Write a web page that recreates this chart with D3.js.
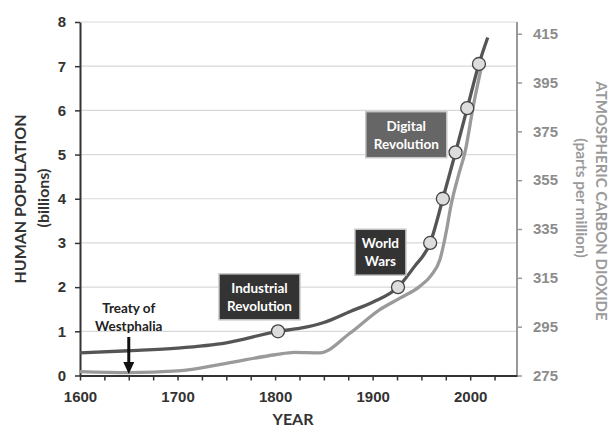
<!DOCTYPE html>
<html>
<head>
<meta charset="utf-8">
<script src="https://cdn.jsdelivr.net/npm/d3@7"></script>
<style>
  body { margin: 0; background: #fff; }
  svg { font-family: "Lato", "Open Sans", sans-serif; font-weight: bold; }
  .axis text { font-size: 15px; font-weight: bold; }
</style>
</head>
<body>
<div id="chart"></div>
<script>
// Human population (billions) by year
const popYears  = [1600, 1650, 1700, 1750, 1803, 1826, 1850, 1877, 1900, 1926, 1943, 1959, 1972, 1985, 1997, 2009, 2018];
const popValues = [0.51, 0.56, 0.62, 0.74, 1.0, 1.07, 1.2, 1.45, 1.66, 2.0, 2.47, 3.0, 4.0, 5.05, 6.05, 7.05, 7.65];

// Billion milestones (circles)
const milestoneYears  = [1803, 1926, 1959, 1972, 1985, 1997, 2009];
const milestoneValues = [1, 2, 3, 4, 5.05, 6.05, 7.05];

// Atmospheric CO2 (ppm) by year
const co2Years  = [1600, 1650, 1700, 1750, 1800, 1820, 1846, 1877, 1907, 1928, 1948, 1960, 1969, 1976, 1980, 1988, 1995, 2003, 2013];
const co2Values = [276.6, 276.2, 276.9, 280, 283.5, 284.5, 284.3, 292.4, 301.9, 306.7, 311.4, 316, 322.5, 335, 344, 357, 367, 385, 404];

// Tick labels
const popTicks  = [0, 1, 2, 3, 4, 5, 6, 7, 8];
const co2Ticks  = [275, 295, 315, 335, 355, 375, 395, 415];
const yearTicks = d3.range(1600, 2026, 25);

// Text annotations, anchored at a (year, population) box centre
const boxNotes = [
    { lines: ["Industrial", "Revolution"], year: 1784, pop: 1.78, w: 81, fill: "#333" },
    { lines: ["World", "Wars"],            year: 1908, pop: 2.79, w: 51, fill: "#333" },
    { lines: ["Digital", "Revolution"],    year: 1934.5, pop: 5.45, w: 81, fill: "#666" }
];

const width = 613;
const height = 428;

const svg = d3.select("#chart")
    .append("svg")
    .attr("width", width)
    .attr("height", height);

const x = d3.scaleLinear().domain([1600, 2048]).range([80, 517]);
const yPop = d3.scaleLinear().domain([0, 8]).range([375.5, 22]);
const yCo2 = d3.scaleLinear().domain([275, 415]).range([375.5, 33.7]);

// Gridlines
svg.append("g")
    .selectAll("line")
    .data(popTicks.filter(d => d > 0))
    .enter()
    .append("line")
    .attr("x1", x.range()[0])
    .attr("x2", x.range()[1])
    .attr("y1", d => yPop(d))
    .attr("y2", d => yPop(d))
    .attr("stroke", "#d9d9d9")
    .attr("stroke-width", 1.2);

// Right axis (CO2)
const rightAxis = svg.append("g")
    .attr("class", "axis")
    .attr("transform", `translate(${x.range()[1]},0)`)
    .call(d3.axisRight(yCo2).tickValues(co2Ticks).tickSize(5).tickPadding(11).tickSizeOuter(0));
rightAxis.select(".domain").remove();
rightAxis.append("line")
    .attr("y1", yPop(0))
    .attr("y2", yPop(8))
    .attr("stroke", "#999")
    .attr("stroke-width", 2);
rightAxis.selectAll(".tick line").attr("stroke", "#999").attr("stroke-width", 1.5);
rightAxis.selectAll(".tick text").attr("fill", "#8c8c8c");

// Left axis (population)
const leftAxis = svg.append("g")
    .attr("class", "axis")
    .attr("transform", `translate(${x.range()[0]},0)`)
    .call(d3.axisLeft(yPop).tickValues(popTicks).tickSize(5).tickPadding(9).tickSizeOuter(0));
leftAxis.select(".domain").attr("stroke", "#333").attr("stroke-width", 2);
leftAxis.selectAll(".tick line").attr("stroke", "#333").attr("stroke-width", 1.5);
leftAxis.selectAll(".tick text").attr("fill", "#333");

// Bottom axis (year)
const bottomAxis = svg.append("g")
    .attr("class", "axis")
    .attr("transform", `translate(0,${yPop(0)})`)
    .call(d3.axisBottom(x).tickValues(yearTicks)
        .tickFormat(d => d % 100 === 0 ? d : "")
        .tickSize(5).tickPadding(11).tickSizeOuter(0));
bottomAxis.select(".domain").attr("stroke", "#333").attr("stroke-width", 2);
bottomAxis.selectAll(".tick line").attr("stroke", "#333").attr("stroke-width", 1.5);
bottomAxis.selectAll(".tick text").attr("fill", "#333");

// Lines
const co2Data = co2Years.map((yr, i) => ({ year: yr, v: co2Values[i] }));
const popData = popYears.map((yr, i) => ({ year: yr, v: popValues[i] }));

svg.append("path")
    .datum(co2Data)
    .attr("fill", "none")
    .attr("stroke", "#9a9a9a")
    .attr("stroke-width", 3.3)
    .attr("d", d3.line().x(d => x(d.year)).y(d => yCo2(d.v)).curve(d3.curveMonotoneX));

svg.append("path")
    .datum(popData)
    .attr("fill", "none")
    .attr("stroke", "#555")
    .attr("stroke-width", 3.3)
    .attr("d", d3.line().x(d => x(d.year)).y(d => yPop(d.v)).curve(d3.curveMonotoneX));

// Milestone circles
svg.append("g")
    .selectAll("circle")
    .data(milestoneYears.map((yr, i) => ({ year: yr, v: milestoneValues[i] })))
    .enter()
    .append("circle")
    .attr("cx", d => x(d.year))
    .attr("cy", d => yPop(d.v))
    .attr("r", 6.5)
    .attr("fill", "#ddd")
    .attr("stroke", "#444")
    .attr("stroke-width", 1.3);

// Annotation boxes
const boxH = 46;
boxNotes.forEach(n => {
    const g = svg.append("g").attr("transform", `translate(${x(n.year)},${yPop(n.pop)})`);
    g.append("rect")
        .attr("x", -n.w / 2)
        .attr("y", -boxH / 2)
        .attr("width", n.w)
        .attr("height", boxH)
        .attr("fill", n.fill)
        .attr("stroke", "#c8c8c8")
        .attr("stroke-width", 1.5);
    g.selectAll("text")
        .data(n.lines)
        .enter()
        .append("text")
        .attr("text-anchor", "middle")
        .attr("y", (d, i) => (i - 0.5) * 18 + 5)
        .attr("fill", "#fff")
        .attr("font-size", 13.5)
        .text(d => d);
});

// Treaty of Westphalia arrow
const treatyX = x(1650);
svg.append("text")
    .attr("x", treatyX)
    .attr("y", 313)
    .attr("text-anchor", "middle")
    .attr("font-size", 13.5)
    .attr("fill", "#222")
    .text("Treaty of");
svg.append("text")
    .attr("x", treatyX)
    .attr("y", 331)
    .attr("text-anchor", "middle")
    .attr("font-size", 13.5)
    .attr("fill", "#222")
    .text("Westphalia");
svg.append("line")
    .attr("x1", treatyX)
    .attr("x2", treatyX)
    .attr("y1", 337)
    .attr("y2", 364)
    .attr("stroke", "#111")
    .attr("stroke-width", 3);
svg.append("path")
    .attr("d", `M${treatyX - 5.5},${362} L${treatyX + 5.5},${362} L${treatyX},${374} Z`)
    .attr("fill", "#111");

// Axis titles
svg.append("text")
    .attr("transform", "translate(26,199) rotate(-90)")
    .attr("text-anchor", "middle")
    .attr("font-size", 16)
    .attr("fill", "#333")
    .text("HUMAN POPULATION");
svg.append("text")
    .attr("transform", "translate(48.5,198) rotate(-90)")
    .attr("text-anchor", "middle")
    .attr("font-size", 16)
    .attr("fill", "#333")
    .text("(billions)");

svg.append("text")
    .attr("transform", "translate(596,201) rotate(90)")
    .attr("text-anchor", "middle")
    .attr("font-size", 15)
    .attr("fill", "#9a9a9a")
    .text("ATMOSPHERIC CARBON DIOXIDE");
svg.append("text")
    .attr("transform", "translate(576,198) rotate(90)")
    .attr("text-anchor", "middle")
    .attr("font-size", 15.5)
    .attr("fill", "#9a9a9a")
    .text("(parts per million)");

svg.append("text")
    .attr("x", 293)
    .attr("y", 425)
    .attr("text-anchor", "middle")
    .attr("font-size", 16)
    .attr("fill", "#333")
    .text("YEAR");
</script>
</body>
</html>
